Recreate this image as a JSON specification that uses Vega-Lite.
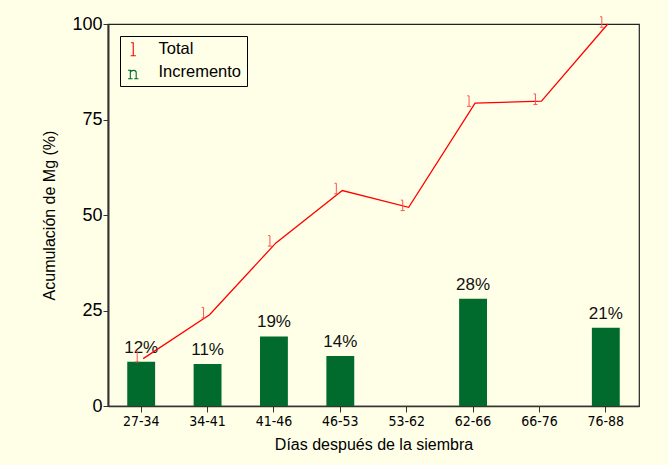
{
  "$schema": "https://vega.github.io/schema/vega-lite/v6.json",
  "autosize": "none",
  "width": 531,
  "height": 382,
  "padding": {"left": 108, "top": 24, "right": 29, "bottom": 59},
  "background": "#FFFFE8",
  "config": {
    "view": {"stroke": "#222222", "strokeWidth": 1.2},
    "font": "Liberation Sans",
    "axis": {"grid": false, "domainColor": "#333333", "tickColor": "#333333", "labelColor": "#000000", "titleColor": "#000000", "titleFontWeight": "normal"}
  },
  "data": {
    "values": [
      {"periodo": "27-34", "total": 12.4, "incremento": 11.6, "etiqueta": "12%"},
      {"periodo": "34-41", "total": 23.9, "incremento": 11.0, "etiqueta": "11%"},
      {"periodo": "41-46", "total": 42.7, "incremento": 18.2, "etiqueta": "19%"},
      {"periodo": "46-53", "total": 56.4, "incremento": 13.1, "etiqueta": "14%"},
      {"periodo": "53-62", "total": 52.0, "incremento": null, "etiqueta": null},
      {"periodo": "62-66", "total": 79.3, "incremento": 28.1, "etiqueta": "28%"},
      {"periodo": "66-76", "total": 79.8, "incremento": null, "etiqueta": null},
      {"periodo": "76-88", "total": 100, "incremento": 20.5, "etiqueta": "21%"}
    ]
  },
  "encoding": {
    "x": {
      "field": "periodo", "type": "ordinal",
      "sort": ["27-34", "34-41", "41-46", "46-53", "53-62", "62-66", "66-76", "76-88"],
      "scale": {"paddingInner": 0.58, "paddingOuter": 0.29},
      "axis": {
        "title": "Días después de la siembra", "titleFontSize": 16, "titlePadding": 8,
        "labelAngle": 0, "labelFontSize": 14, "labelFont": "Liberation Sans Narrow, DejaVu Sans Condensed, sans-serif",
        "tickSize": 6, "labelPadding": 2, "domainWidth": 1.5
      }
    }
  },
  "layer": [
    {
      "mark": {"type": "bar", "color": "#006B2D"},
      "encoding": {
        "y": {
          "field": "incremento", "type": "quantitative",
          "scale": {"domain": [0, 100], "nice": false},
          "axis": {"title": "Acumulación de Mg (%)", "titleFontSize": 16, "titlePadding": 14, "values": [0, 25, 50, 75, 100], "labelFontSize": 18, "tickSize": 5, "labelPadding": 1, "domainWidth": 2}
        },
        "color": {
          "datum": "Incremento",
          "scale": {"domain": ["Total", "Incremento"], "range": ["#FF0000", "#006B2D"]},
          "legend": {
            "title": null, "orient": "none", "legendX": 12, "legendY": 12,
            "strokeColor": "#000000", "fillColor": "#FFFFE8", "padding": 5,
            "labelFontSize": 16.5, "labelOffset": 17, "rowPadding": 6, "symbolSize": 170,
            "labelColor": "#000000", "symbolFillColor": "transparent", "symbolOpacity": 1,
            "encode": {
              "symbols": {
                "update": {
                  "fill": {"value": "transparent"},
                  "fillOpacity": {"value": 0},
                  "stroke": {"scale": "color", "field": "value"},
                  "strokeWidth": {"value": 1.1},
                  "shape": {"signal": "datum.value === 'Total' ? 'M-0.35,-1 L0,-1 L0,1 M-0.4,1 L0.4,1' : 'M-0.8,-0.3 L-0.45,-0.3 L-0.45,1 M-0.45,0 C-0.3,-0.4 0.45,-0.4 0.45,0.05 L0.45,1 M-0.8,1 L-0.1,1 M0.15,1 L0.8,1'"}
                }
              }
            }
          }
        }
      }
    },
    {
      "mark": {"type": "text", "fontSize": 17, "baseline": "bottom", "dy": -5, "color": "#111111"},
      "encoding": {
        "y": {"field": "incremento", "type": "quantitative"},
        "text": {"field": "etiqueta"}
      }
    },
    {
      "mark": {"type": "line", "color": "#FF0000", "strokeWidth": 1.3, "xOffset": 2},
      "encoding": {
        "y": {"field": "total", "type": "quantitative"},
        "color": {"datum": "Total"}
      }
    },
    {
      "mark": {"type": "point", "filled": false, "size": 110, "strokeWidth": 1, "opacity": 1, "xOffset": -4, "yOffset": -2, "shape": "M-0.35,-1 L0,-1 L0,1 M-0.4,1 L0.4,1", "color": "#FF5050"},
      "encoding": {
        "y": {"field": "total", "type": "quantitative"}
      }
    }
  ]
}
